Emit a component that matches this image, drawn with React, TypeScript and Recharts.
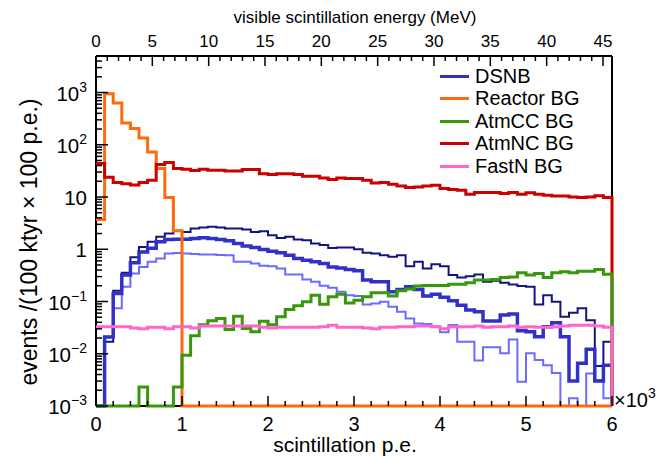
import React from 'react';
import { LineChart, Line, XAxis, YAxis, ReferenceLine } from 'recharts';

// 60 bins of 100 p.e. each, 0..6000 p.e.
const binWidth = 100;
const floorValue = 1e-3; // empty bins sit on the bottom of the log axis

const dsnbTotal = [
  0, 0.017, 0.16, 0.354, 0.7, 1.11, 1.39, 1.73, 2.0, 2.25,
  2.15, 2.5, 2.61, 2.7, 2.6, 2.5, 2.5, 2.39, 2.15, 2.2,
  1.86, 1.65, 1.73, 1.54, 1.49, 1.29, 1.2, 1.06, 1.08, 1.08,
  1.0, 0.855, 0.83, 0.771, 0.716, 0.771, 0.475, 0.574, 0.43, 0.519,
  0.475, 0.32, 0.289, 0.306, 0.33, 0.238, 0.249, 0.228, 0.212, 0.197,
  0.191, 0.088, 0.132, 0.099, 0.051, 0.061, 0.074, 0.044, 0.0058, 0.017,
];
const dsnbMid = [
  0, 0.021, 0.143, 0.32, 0.55, 0.89, 1.04, 1.39, 1.54, 1.56,
  1.56, 1.61, 1.66, 1.61, 1.54, 1.45, 1.29, 1.15, 1.08, 0.99,
  0.92, 0.855, 0.771, 0.667, 0.619, 0.574, 0.535, 0.46, 0.44, 0.41,
  0.386, 0.257, 0.238, 0.238, 0.153, 0.17, 0.191, 0.17, 0.127, 0.137,
  0.12, 0.103, 0.085, 0.0685, 0.0636, 0.0422, 0.0422, 0.055, 0.0575, 0.0275,
  0.0263, 0.0211, 0.0328, 0.039, 0.0211, 0.003, 0.0066, 0.0122, 0.003, 0.006,
];
const dsnbLow = [
  0, 0.0211, 0.074, 0.191, 0.345, 0.46, 0.574, 0.667, 0.83, 0.85,
  0.83, 0.81, 0.795, 0.795, 0.78, 0.771, 0.574, 0.574, 0.535, 0.482,
  0.475, 0.43, 0.33, 0.33, 0.264, 0.238, 0.2, 0.183, 0.153, 0.132,
  0.127, 0.088, 0.092, 0.099, 0.079, 0.0636, 0.0475, 0.0381, 0.037, 0.0328,
  0.0257, 0.0354, 0.017, 0.017, 0.0074, 0.0133, 0.0133, 0.0102, 0.0188, 0.0029,
  0.0102, 0.0076, 0.006, 0.0043, 0, 0.0014, 0, 0.0042, 0.0031, 0.0014,
];
const reactorBG = [
  3.7, 950, 630, 260, 205, 135, 73, 35, 9.8, 2.25,
  0, 0, 0, 0, 0, 0, 0, 0, 0, 0,
  0, 0, 0, 0, 0, 0, 0, 0, 0, 0,
  0, 0, 0, 0, 0, 0, 0, 0, 0, 0,
  0, 0, 0, 0, 0, 0, 0, 0, 0, 0,
  0, 0, 0, 0, 0, 0, 0, 0, 0, 0,
];
const atmCCBG = [
  0, 0, 0, 0, 0, 0.0023, 0, 0, 0, 0.0023,
  0.0094, 0.022, 0.036, 0.043, 0.0475, 0.029, 0.052, 0.0306, 0.0263, 0.042,
  0.036, 0.051, 0.07, 0.083, 0.099, 0.132, 0.089, 0.123, 0.138, 0.094,
  0.106, 0.123, 0.147, 0.147, 0.127, 0.16, 0.173, 0.197, 0.203, 0.203,
  0.203, 0.215, 0.215, 0.228, 0.257, 0.257, 0.264, 0.289, 0.295, 0.354,
  0.32, 0.345, 0.289, 0.354, 0.37, 0.354, 0.38, 0.38, 0.41, 0.334,
];
const atmNCBG = [
  44, 24, 19, 18, 17, 19, 21, 42, 46, 35,
  34, 32, 34, 32.5, 32.5, 31.6, 31.6, 33.6, 33.6, 28,
  27, 28, 28, 27, 25, 25, 23, 21.6, 23, 22.5,
  22.5, 21, 18.6, 18.9, 17.6, 16.3, 15.2, 15.6, 16.3, 16.8,
  14.5, 13.9, 13.5, 11.3, 12.2, 12.2, 12.2, 11.7, 12.2, 11.3,
  12.1, 11.3, 10.8, 10.4, 10.4, 10, 9.8, 10, 10.6, 9.8,
];
const fastNBG = [
  0.033, 0.033, 0.033, 0.033, 0.031, 0.03, 0.032, 0.032, 0.03, 0.033,
  0.033, 0.031, 0.034, 0.034, 0.034, 0.034, 0.034, 0.034, 0.034, 0.032,
  0.031, 0.032, 0.032, 0.032, 0.032, 0.032, 0.033, 0.035, 0.032, 0.032,
  0.032, 0.031, 0.03, 0.032, 0.032, 0.033, 0.033, 0.034, 0.034, 0.033,
  0.03, 0.033, 0.033, 0.033, 0.034, 0.032, 0.033, 0.033, 0.034, 0.032,
  0.033, 0.032, 0.032, 0.033, 0.034, 0.035, 0.035, 0.035, 0.034, 0.032,
];

const xMax = 6000;
const mevMax = 45.8; // top axis range matching 6000 p.e.

const xTicks: number[] = [];
for (let v = 0; v <= xMax; v += 200) xTicks.push(v);
const mevTicks: number[] = [];
for (let v = 0; v <= 45; v += 1) mevTicks.push(v);
const yTicks: number[] = [];
for (let e = -3; e <= 3; e++) {
  for (let m = 1; m <= 9; m++) {
    const v = m * Math.pow(10, e);
    if (v <= 5000) yTicks.push(v);
  }
}

const colors = {
  dsnbTotal: '#141480',
  dsnbMid: '#3131c8',
  dsnbLow: '#6b6bff',
  reactor: '#ff6a10',
  atmCC: '#36980a',
  atmNC: '#cc0000',
  fastN: '#ff66cc',
};

const legendItems = [
  { name: 'DSNB', color: colors.dsnbMid },
  { name: 'Reactor BG', color: colors.reactor },
  { name: 'AtmCC BG', color: colors.atmCC },
  { name: 'AtmNC BG', color: colors.atmNC },
  { name: 'FastN BG', color: colors.fastN },
];

const lift = (v: number) => Math.max(v, floorValue);

const rows = dsnbTotal.map((_, i) => ({
  x: i * binWidth,
  dsnbTotal: lift(dsnbTotal[i]),
  dsnbMid: lift(dsnbMid[i]),
  dsnbLow: lift(dsnbLow[i]),
  reactor: lift(reactorBG[i]),
  atmCC: lift(atmCCBG[i]),
  atmNC: lift(atmNCBG[i]),
  fastN: lift(fastNBG[i]),
}));
// closing edge: every histogram drops to the floor at 6000 p.e.
rows.push({
  x: xMax,
  dsnbTotal: floorValue, dsnbMid: floorValue, dsnbLow: floorValue,
  reactor: floorValue, atmCC: floorValue, atmNC: floorValue, fastN: floorValue,
});

const font = '"Liberation Sans", Arial, Helvetica, sans-serif';

const BottomTick = (props: any) => {
  const { x, y, payload } = props;
  const major = payload.value % 1000 === 0;
  return (
    <g>
      <line x1={x} x2={x} y1={y} y2={y - (major ? 10 : 5)} stroke="#000" strokeWidth={1.5} />
      {major && (
        <text x={x} y={y + 25} textAnchor="middle" fontSize={20} fontFamily={font} fill="#000">
          {payload.value / 1000}
        </text>
      )}
    </g>
  );
};

const TopTick = (props: any) => {
  const { x, y, payload } = props;
  const major = payload.value % 5 === 0;
  return (
    <g>
      <line x1={x} x2={x} y1={y} y2={y + (major ? 10 : 5)} stroke="#000" strokeWidth={1.5} />
      {major && (
        <text x={x} y={y - 9} textAnchor="middle" fontSize={17} fontFamily={font} fill="#000">
          {payload.value}
        </text>
      )}
    </g>
  );
};

const LeftTick = (props: any) => {
  const { x, y, payload } = props;
  const v = payload.value as number;
  const e = Math.round(Math.log10(v));
  const major = Math.abs(v - Math.pow(10, e)) < 1e-6 * Math.pow(10, e);
  let label: React.ReactNode = null;
  if (major) {
    if (e === 0 || e === 1) {
      label = e === 0 ? '1' : '10';
    } else {
      label = (
        <>
          10
          <tspan dy={-9} fontSize={14}>
            {e < 0 ? '\u2212' + -e : e}
          </tspan>
        </>
      );
    }
  }
  return (
    <g>
      <line x1={x} x2={x + (major ? 12 : 6)} y1={y} y2={y} stroke="#000" strokeWidth={1.5} />
      {major && (
        <text x={x - 9} y={y + 8} textAnchor="end" fontSize={20.5} fontFamily={font} fill="#000">
          {label}
        </text>
      )}
    </g>
  );
};

const frame = { stroke: '#000', strokeWidth: 2 };

export default function App() {
  return (
    <div style={{ position: 'absolute', left: 0, top: 0, width: 657, height: 458, background: '#fff' }}>
      <LineChart width={657} height={458} data={rows} margin={{ top: 26, right: 45, bottom: 22, left: 56 }}>
        <XAxis
          dataKey="x"
          type="number"
          domain={[0, xMax]}
          ticks={xTicks}
          interval={0}
          tick={BottomTick}
          tickLine={false}
          tickSize={0}
          tickMargin={0}
          height={30}
          axisLine={frame}
        />
        <XAxis
          xAxisId="top"
          orientation="top"
          dataKey="x"
          type="number"
          domain={[0, mevMax]}
          allowDataOverflow
          ticks={mevTicks}
          interval={0}
          tick={TopTick}
          tickLine={false}
          tickSize={0}
          tickMargin={0}
          height={30}
          axisLine={frame}
        />
        <YAxis
          scale="log"
          type="number"
          domain={[floorValue, 5000]}
          ticks={yTicks}
          interval={0}
          tick={LeftTick}
          tickLine={false}
          tickSize={0}
          tickMargin={0}
          width={40}
          axisLine={frame}
        />
        <ReferenceLine x={xMax} stroke="#000" strokeWidth={2} />
        <Line type="stepAfter" dataKey="dsnbTotal" stroke={colors.dsnbTotal} strokeWidth={2} dot={false} isAnimationActive={false} strokeLinejoin="miter" zIndex={600} />
        <Line type="stepAfter" dataKey="dsnbLow" stroke={colors.dsnbLow} strokeWidth={2} dot={false} isAnimationActive={false} strokeLinejoin="miter" zIndex={600} />
        <Line type="stepAfter" dataKey="dsnbMid" stroke={colors.dsnbMid} strokeWidth={3.5} dot={false} isAnimationActive={false} strokeLinejoin="miter" zIndex={600} />
        <Line type="stepAfter" dataKey="reactor" stroke={colors.reactor} strokeWidth={3} dot={false} isAnimationActive={false} strokeLinejoin="miter" zIndex={600} />
        <Line type="stepAfter" dataKey="atmNC" stroke={colors.atmNC} strokeWidth={3} dot={false} isAnimationActive={false} strokeLinejoin="miter" zIndex={600} />
        <Line type="stepAfter" dataKey="atmCC" stroke={colors.atmCC} strokeWidth={3} dot={false} isAnimationActive={false} strokeLinejoin="miter" zIndex={600} />
        <Line type="stepAfter" dataKey="fastN" stroke={colors.fastN} strokeWidth={3} dot={false} isAnimationActive={false} strokeLinejoin="miter" zIndex={600} />
      </LineChart>

      {/* axis titles */}
      <svg width={657} height={458} style={{ position: 'absolute', left: 0, top: 0, pointerEvents: 'none' }}>
        <text x={355} y={23} textAnchor="middle" fontSize={17} fontFamily={font}>
          visible scintillation energy (MeV)
        </text>
        <text x={345} y={452} textAnchor="middle" fontSize={21} fontFamily={font}>
          scintillation p.e.
        </text>
        <text x={614} y={407} fontSize={20} fontFamily={font}>
          {'\u00d710'}
          <tspan dy={-9} fontSize={14}>3</tspan>
        </text>
        <text transform="translate(37,242) rotate(-90)" textAnchor="middle" fontSize={23} fontFamily={font}>
          events /(100 ktyr {'\u00d7'} 100 p.e.)
        </text>
      </svg>

      {/* legend */}
      <div style={{ position: 'absolute', left: 440, top: 65, fontFamily: font, fontSize: 20, color: '#000' }}>
        {legendItems.map((item) => (
          <div key={item.name} style={{ display: 'flex', alignItems: 'center', height: 22.5 }}>
            <span style={{ display: 'inline-block', width: 29, height: 3, background: item.color, marginRight: 6 }} />
            {item.name}
          </div>
        ))}
      </div>
    </div>
  );
}
